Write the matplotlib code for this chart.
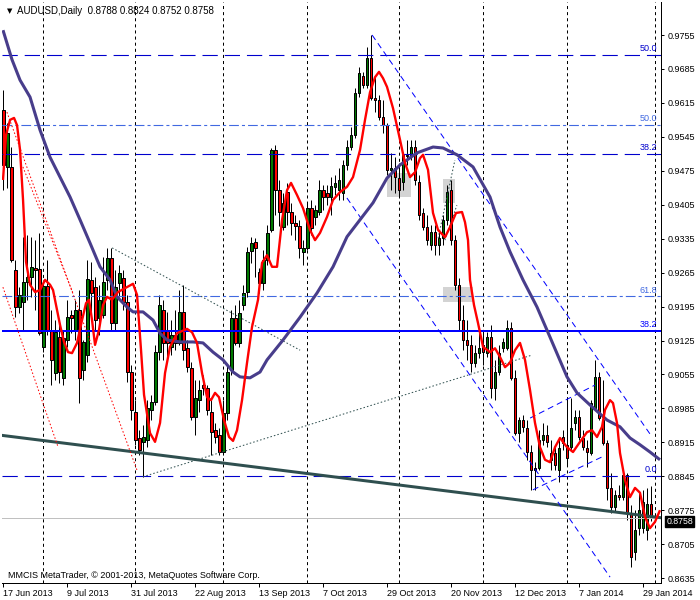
import matplotlib
matplotlib.use("Agg")
import numpy as np
import matplotlib.pyplot as plt
from matplotlib.patches import Rectangle
from matplotlib.transforms import blended_transform_factory, offset_copy

plt.rcParams['font.family'] = ['Liberation Sans', 'DejaVu Sans']
plt.rcParams['lines.scale_dashes'] = False

header = 'AUDUSD,Daily  0.8788 0.8824 0.8752 0.8758'
copyright_text = 'MMCIS MetaTrader, © 2001-2013, MetaQuotes Software Corp.'

# daily candles, 17 Jun 2013 .. 31 Jan 2014
opens = [0.9600, 0.9482, 0.9483, 0.9270, 0.9194, 0.9204, 0.9246, 0.9256, 0.9275, 0.9272,
         0.9112, 0.9237, 0.9147, 0.9058, 0.9132, 0.9048, 0.9126, 0.9178, 0.9147, 0.9188,
         0.9064, 0.9095, 0.9250, 0.9235, 0.9171, 0.9178, 0.9250, 0.9295, 0.9161, 0.9244,
         0.9254, 0.9204, 0.9060, 0.8977, 0.8924, 0.8916, 0.8920, 0.8982, 0.8998, 0.9101,
         0.9188, 0.9147, 0.9112, 0.9136, 0.9120, 0.9184, 0.9109, 0.9068, 0.8967, 0.9002,
         0.9033, 0.9027, 0.8977, 0.8940, 0.8930, 0.8895, 0.8975, 0.9064, 0.9171, 0.9120,
         0.9198, 0.9225, 0.9310, 0.9328, 0.9266, 0.9244, 0.9291, 0.9353, 0.9518, 0.9435,
         0.9359, 0.9431, 0.9390, 0.9367, 0.9361, 0.9308, 0.9316, 0.9398, 0.9380, 0.9390,
         0.9435, 0.9429, 0.9421, 0.9442, 0.9435, 0.9429, 0.9487, 0.9524, 0.9549, 0.9635,
         0.9670, 0.9652, 0.9708, 0.9625, 0.9621, 0.9586, 0.9569, 0.9477, 0.9481, 0.9460,
         0.9452, 0.9508, 0.9508, 0.9524, 0.9452, 0.9388, 0.9359, 0.9322, 0.9349, 0.9322,
         0.9336, 0.9373, 0.9435, 0.9332, 0.9239, 0.9167, 0.9126, 0.9116, 0.9079, 0.9099,
         0.9116, 0.9099, 0.9132, 0.9027, 0.9060, 0.9109, 0.9109, 0.9151, 0.9048, 0.8934,
         0.8961, 0.8945, 0.8895, 0.8862, 0.8862, 0.8920, 0.8930, 0.8879, 0.8893, 0.8858,
         0.8926, 0.8910, 0.8905, 0.8955, 0.8967, 0.8924, 0.8903, 0.8893, 0.8986, 0.9050,
         0.8961, 0.8914, 0.8821, 0.8782, 0.8807, 0.8803, 0.8848, 0.8769, 0.8689, 0.8738,
         0.8738, 0.8734, 0.8788]
highs = [0.9642, 0.9573, 0.9524, 0.9291, 0.9235, 0.9339, 0.9343, 0.9339, 0.9332, 0.9347,
         0.9250, 0.9291, 0.9188, 0.9167, 0.9163, 0.9147, 0.9209, 0.9188, 0.9209, 0.9229,
         0.9126, 0.9291, 0.9287, 0.9256, 0.9239, 0.9297, 0.9316, 0.9316, 0.9270, 0.9281,
         0.9270, 0.9219, 0.9075, 0.9002, 0.8940, 0.8951, 0.9002, 0.9013, 0.9116, 0.9219,
         0.9209, 0.9184, 0.9167, 0.9188, 0.9229, 0.9239, 0.9126, 0.9081, 0.9044, 0.9044,
         0.9054, 0.9033, 0.9002, 0.8955, 0.8945, 0.9002, 0.9075, 0.9188, 0.9198, 0.9209,
         0.9239, 0.9318, 0.9339, 0.9336, 0.9275, 0.9312, 0.9363, 0.9522, 0.9528, 0.9456,
         0.9429, 0.9450, 0.9409, 0.9384, 0.9373, 0.9332, 0.9409, 0.9415, 0.9405, 0.9456,
         0.9446, 0.9446, 0.9462, 0.9466, 0.9481, 0.9497, 0.9539, 0.9565, 0.9646, 0.9689,
         0.9679, 0.9730, 0.9755, 0.9668, 0.9631, 0.9621, 0.9573, 0.9512, 0.9504, 0.9491,
         0.9514, 0.9539, 0.9539, 0.9539, 0.9466, 0.9398, 0.9384, 0.9363, 0.9363, 0.9353,
         0.9384, 0.9446, 0.9456, 0.9343, 0.9254, 0.9198, 0.9167, 0.9136, 0.9116, 0.9147,
         0.9147, 0.9142, 0.9157, 0.9085, 0.9116, 0.9130, 0.9167, 0.9163, 0.9064, 0.8967,
         0.8971, 0.8961, 0.8910, 0.8874, 0.8940, 0.8955, 0.8951, 0.8920, 0.8910, 0.8924,
         0.8940, 0.9006, 0.9006, 0.8982, 0.8982, 0.8940, 0.8920, 0.9002, 0.9085, 0.9060,
         0.9044, 0.8920, 0.8852, 0.8817, 0.8827, 0.8852, 0.8852, 0.8786, 0.8775, 0.8811,
         0.8817, 0.8821, 0.8824]
lows = [0.9435, 0.9439, 0.9287, 0.9173, 0.9182, 0.9147, 0.9209, 0.9215, 0.9188, 0.9136,
        0.9101, 0.9136, 0.9033, 0.9044, 0.9037, 0.9033, 0.9112, 0.9140, 0.9126, 0.8996,
        0.9044, 0.9081, 0.9167, 0.9147, 0.9136, 0.9171, 0.9229, 0.9147, 0.9147, 0.9215,
        0.9188, 0.9039, 0.8961, 0.8910, 0.8889, 0.8844, 0.8905, 0.8961, 0.8992, 0.9085,
        0.9085, 0.9085, 0.9095, 0.9105, 0.9116, 0.9085, 0.9060, 0.8961, 0.8930, 0.8977,
        0.9013, 0.8971, 0.8889, 0.8914, 0.8889, 0.8889, 0.8961, 0.9054, 0.9116, 0.9112,
        0.9188, 0.9215, 0.9285, 0.9256, 0.9223, 0.9229, 0.9281, 0.9349, 0.9384, 0.9361,
        0.9353, 0.9363, 0.9343, 0.9332, 0.9295, 0.9281, 0.9312, 0.9343, 0.9363, 0.9384,
        0.9394, 0.9405, 0.9384, 0.9425, 0.9415, 0.9415, 0.9477, 0.9518, 0.9543, 0.9627,
        0.9646, 0.9646, 0.9621, 0.9596, 0.9580, 0.9553, 0.9466, 0.9435, 0.9429, 0.9421,
        0.9435, 0.9487, 0.9497, 0.9446, 0.9373, 0.9353, 0.9322, 0.9312, 0.9301, 0.9301,
        0.9322, 0.9363, 0.9322, 0.9229, 0.9147, 0.9105, 0.9085, 0.9060, 0.9070, 0.9089,
        0.9075, 0.9091, 0.9006, 0.9002, 0.9054, 0.9101, 0.9105, 0.9044, 0.8930, 0.8916,
        0.8936, 0.8879, 0.8817, 0.8817, 0.8858, 0.8910, 0.8905, 0.8858, 0.8858, 0.8833,
        0.8899, 0.8868, 0.8899, 0.8940, 0.8920, 0.8899, 0.8864, 0.8889, 0.8982, 0.8961,
        0.8910, 0.8796, 0.8769, 0.8773, 0.8796, 0.8796, 0.8755, 0.8658, 0.8672, 0.8724,
        0.8728, 0.8713, 0.8752]
closes = [0.9487, 0.9553, 0.9291, 0.9194, 0.9218, 0.9246, 0.9256, 0.9277, 0.9270, 0.9140,
          0.9237, 0.9147, 0.9085, 0.9142, 0.9060, 0.9130, 0.9174, 0.9172, 0.9188, 0.9048,
          0.9122, 0.9252, 0.9223, 0.9167, 0.9209, 0.9246, 0.9295, 0.9161, 0.9235, 0.9264,
          0.9204, 0.9060, 0.8982, 0.8920, 0.8899, 0.8926, 0.8986, 0.8998, 0.9101, 0.9198,
          0.9120, 0.9120, 0.9136, 0.9120, 0.9184, 0.9105, 0.9070, 0.8967, 0.9006, 0.9023,
          0.9027, 0.8982, 0.8936, 0.8926, 0.8895, 0.8975, 0.9060, 0.9171, 0.9120, 0.9182,
          0.9223, 0.9308, 0.9326, 0.9316, 0.9244, 0.9291, 0.9347, 0.9518, 0.9435, 0.9390,
          0.9409, 0.9390, 0.9367, 0.9361, 0.9316, 0.9316, 0.9398, 0.9357, 0.9394, 0.9435,
          0.9421, 0.9421, 0.9444, 0.9450, 0.9456, 0.9487, 0.9524, 0.9549, 0.9635, 0.9677,
          0.9652, 0.9708, 0.9625, 0.9621, 0.9586, 0.9569, 0.9477, 0.9481, 0.9462, 0.9435,
          0.9508, 0.9505, 0.9524, 0.9456, 0.9384, 0.9359, 0.9332, 0.9349, 0.9322, 0.9336,
          0.9373, 0.9431, 0.9332, 0.9239, 0.9167, 0.9126, 0.9116, 0.9079, 0.9099, 0.9109,
          0.9101, 0.9132, 0.9027, 0.9060, 0.9099, 0.9122, 0.9151, 0.9048, 0.8934, 0.8961,
          0.8947, 0.8895, 0.8858, 0.8858, 0.8920, 0.8930, 0.8916, 0.8893, 0.8868, 0.8903,
          0.8914, 0.8883, 0.8945, 0.8967, 0.8926, 0.8905, 0.8895, 0.8996, 0.9050, 0.8965,
          0.8914, 0.8821, 0.8782, 0.8807, 0.8803, 0.8848, 0.8769, 0.8679, 0.8734, 0.8775,
          0.8792, 0.8788, 0.8758]

date_labels = ['17 Jun 2013', '9 Jul 2013', '31 Jul 2013', '22 Aug 2013', '13 Sep 2013',
               '7 Oct 2013', '29 Oct 2013', '20 Nov 2013', '12 Dec 2013', '7 Jan 2014',
               '29 Jan 2014']
date_label_bars = [0, 16, 32, 48, 64, 80, 96, 112, 128, 144, 160]
grid_bars = [10, 33, 55, 76, 99, 120, 141, 163]
price_ticks = [0.9755, 0.9685, 0.9615, 0.9545, 0.9475, 0.9405, 0.9335, 0.9265, 0.9195,
               0.9125, 0.9055, 0.8985, 0.8915, 0.8845, 0.8775, 0.8705, 0.8635]

# fast (red) moving average
fast_ma_bar = [-0.08, 0.68, 1.68, 2.68, 3.43, 4.18, 4.93, 5.68, 6.68, 7.93, 9.18, 10.43,
               11.68, 12.43, 13.43, 14.18, 15.18, 16.18, 17.18, 18.43, 19.68, 20.68, 21.43,
               22.18, 22.93, 23.93, 24.93, 25.93, 27.18, 28.68, 30.43, 32.43, 33.43, 34.43,
               35.18, 36.68, 37.93, 39.18, 40.43, 41.68, 43.43, 45.93, 47.18, 48.43, 49.68,
               50.93, 51.93, 52.93, 53.93, 55.18, 56.43, 57.43, 58.43, 59.68, 60.93, 62.18,
               63.68, 64.68, 65.93, 67.18, 68.43, 69.68, 70.93, 71.93, 73.43, 74.93, 76.68,
               77.93, 79.18, 80.93, 82.43, 84.18, 85.93, 87.43, 89.18, 90.43, 91.68, 92.93,
               93.93, 94.93, 95.93, 97.43, 99.18, 100.43, 101.68, 102.93, 104.18, 104.93,
               106.18, 107.43, 108.68, 110.43, 111.68, 113.18, 114.68, 115.43, 116.18,
               116.68, 117.68, 118.68, 119.93, 121.68, 122.93, 124.18, 125.43, 126.68,
               127.93, 129.18, 130.43, 131.68, 132.93, 134.18, 135.43, 136.68, 137.93,
               139.18, 140.93, 142.43, 144.18, 145.93, 147.18, 148.43, 149.68, 150.43,
               151.68, 152.43, 153.43, 154.18, 155.43, 156.68, 157.93, 159.18, 160.43,
               161.68, 162.93, 164.18]
fast_ma = [0.9456, 0.9549, 0.9580, 0.9584, 0.9569, 0.9518, 0.9415, 0.9287, 0.9240, 0.9225,
           0.9229, 0.9250, 0.9240, 0.9229, 0.9188, 0.9157, 0.9122, 0.9101, 0.9099, 0.9120,
           0.9167, 0.9202, 0.9209, 0.9167, 0.9116, 0.9147, 0.9198, 0.9215, 0.9209, 0.9225,
           0.9233, 0.9242, 0.9219, 0.9105, 0.9013, 0.8934, 0.8916, 0.8955, 0.9058, 0.9112,
           0.9140, 0.9149, 0.9142, 0.9120, 0.9058, 0.9008, 0.9002, 0.9017, 0.9008, 0.8961,
           0.8926, 0.8918, 0.8940, 0.9002, 0.9079, 0.9153, 0.9209, 0.9285, 0.9301, 0.9277,
           0.9277, 0.9373, 0.9435, 0.9450, 0.9425, 0.9398, 0.9353, 0.9332, 0.9347, 0.9380,
           0.9415, 0.9431, 0.9442, 0.9462, 0.9518, 0.9580, 0.9637, 0.9668, 0.9679, 0.9666,
           0.9648, 0.9604, 0.9539, 0.9491, 0.9462, 0.9472, 0.9501, 0.9508, 0.9477, 0.9388,
           0.9353, 0.9338, 0.9359, 0.9388, 0.9390, 0.9369, 0.9332, 0.9250, 0.9198, 0.9161,
           0.9112, 0.9101, 0.9109, 0.9091, 0.9070, 0.9079, 0.9105, 0.9120, 0.9085, 0.9023,
           0.8955, 0.8905, 0.8879, 0.8874, 0.8905, 0.8924, 0.8905, 0.8895, 0.8916, 0.8936,
           0.8940, 0.8926, 0.8947, 0.8982, 0.9002, 0.8996, 0.8955, 0.8893, 0.8837, 0.8802,
           0.8821, 0.8811, 0.8761, 0.8738, 0.8751, 0.8775]

# slow (purple) moving average
slow_ma_bar = [-0.08, 2.18, 4.18, 6.68, 9.18, 11.68, 14.18, 16.68, 19.18, 21.68, 24.18,
               26.68, 28.43, 30.93, 32.43, 34.93, 37.43, 39.18, 40.93, 44.18, 47.43, 49.93,
               52.43, 54.93, 57.43, 59.18, 61.68, 64.18, 65.93, 69.93, 74.18, 78.43, 82.43,
               85.93, 89.18, 92.43, 95.93, 99.18, 103.43, 107.43, 109.93, 113.43, 117.43,
               121.68, 124.18, 126.68, 129.93, 133.43, 136.68, 140.93, 143.43, 146.68,
               150.93, 154.18, 156.68, 159.18, 161.68, 164.18]
slow_ma = [0.9765, 0.9704, 0.9662, 0.9627, 0.9559, 0.9503, 0.9462, 0.9421, 0.9374, 0.9326,
           0.9277, 0.9250, 0.9215, 0.9194, 0.9184, 0.9184, 0.9167, 0.9140, 0.9126, 0.9122,
           0.9122, 0.9120, 0.9101, 0.9085, 0.9060, 0.9050, 0.9048, 0.9060, 0.9085, 0.9126,
           0.9173, 0.9223, 0.9277, 0.9339, 0.9374, 0.9409, 0.9460, 0.9487, 0.9512, 0.9524,
           0.9522, 0.9508, 0.9483, 0.9421, 0.9359, 0.9308, 0.9250, 0.9194, 0.9132, 0.9050,
           0.9017, 0.8992, 0.8961, 0.8947, 0.8924, 0.8910, 0.8895, 0.8879]

# fibonacci levels
fib_dash_levels = [0.9714, 0.9510, 0.8846]
fib_dash_labels = ['50.0', '38.2', '0.0']
fib_dashdot_levels = [0.9570, 0.9216]
fib_dashdot_labels = ['50.0', '61.8']
fib_solid_level = 0.9145
fib_solid_label = '38.2'
bid_price = 0.8758

# trend lines: (bar, price) pairs
main_trend = [(0, 0.8929), (162, 0.8762)]
dotted_trends = [[(27.2, 0.9316), (74.2, 0.9105)],
                 [(34.9, 0.8844), (132.2, 0.9095)],
                 [(108.7, 0.9336), (112.9, 0.9497)],
                 [(110.4, 0.9332), (113.4, 0.9404)]]
red_fan = [[(0.9, 0.9596), (33.4, 0.8858)],
           [(-0.1, 0.9235), (13.7, 0.8905)],
           [(4.9, 0.9483), (17.4, 0.9223)]]
channel_lines = [[(92.2, 0.9755), (161.7, 0.8932)],
                 [(85.9, 0.9419), (151.7, 0.8637)],
                 [(131.7, 0.8965), (147.9, 0.9033)],
                 [(132.4, 0.8817), (149.7, 0.8885)]]
# shaded boxes: (bar_from, bar_to, price_low, price_high)
boxes = [(95.9, 101.9, 0.9421, 0.9470),
         (109.9, 112.9, 0.9409, 0.9458),
         (109.9, 117.4, 0.9204, 0.9235)]

PX = 0.72  # one pixel in points

fig = plt.figure(figsize=(7, 6), dpi=100)
ax = fig.add_axes([2 / 700, 17 / 600, 659 / 700, 581 / 600])
ax.set_xlim(-0.33, 164.43)
ax.set_ylim(0.86249, 0.98231)

for b in grid_bars:
    ax.axvline(b, color='black', lw=PX, linestyle=(0, (2.2, 2.2)), zorder=0.5)

for b0, b1, p0, p1 in boxes:
    ax.add_patch(Rectangle((b0, p0), b1 - b0, p1 - p0, facecolor='#d3d3d3',
                           edgecolor='none', zorder=1))

x = np.arange(len(opens))
o = np.array(opens)
c = np.array(closes)
ax.vlines(x, lows, highs, color='black', lw=PX, zorder=2)
body_colors = np.where(c >= o, '#007800', '#ff0000')
ax.bar(x, np.abs(c - o), bottom=np.minimum(o, c), width=0.6, color=body_colors,
       edgecolor='black', linewidth=PX, zorder=3)

for lvl, lab in zip(fib_dash_levels, fib_dash_labels):
    ax.axhline(lvl, color='#0000cd', lw=1.1 * PX, linestyle=(0, (11, 5)), zorder=4)
    ax.text(163.4, lvl + 0.0003, lab, color='#0000cd', fontsize=6.5, ha='right',
            va='bottom', zorder=6)
for lvl, lab in zip(fib_dashdot_levels, fib_dashdot_labels):
    ax.axhline(lvl, color='#4169e1', lw=1.1 * PX, linestyle=(0, (7, 2.2, 2.2, 2.2)),
               zorder=4)
    ax.text(163.4, lvl + 0.0003, lab, color='#4169e1', fontsize=6.5, ha='right',
            va='bottom', zorder=6)
ax.axhline(fib_solid_level, color='#0000ff', lw=2 * PX, zorder=4)
ax.text(163.4, fib_solid_level + 0.0004, fib_solid_label, color='#0000ff', fontsize=6.5,
        ha='right', va='bottom', zorder=6)

ax.axhline(bid_price, color='#c0c0c0', lw=PX, zorder=3.5)
ax.axline(main_trend[0], main_trend[1], color='#2f4f4f', lw=3 * PX, zorder=4)

for seg in dotted_trends:
    (x0, y0), (x1, y1) = seg
    ax.plot([x0, x1], [y0, y1], color='#2f4f4f', lw=PX, linestyle=(0, (1.1, 1.5)), zorder=4)
for seg in red_fan:
    (x0, y0), (x1, y1) = seg
    ax.plot([x0, x1], [y0, y1], color='#ff0000', lw=PX, linestyle=(0, (1.1, 1.5)), zorder=4)
for seg in channel_lines:
    (x0, y0), (x1, y1) = seg
    ax.plot([x0, x1], [y0, y1], color='#0000ff', lw=PX, linestyle=(0, (4.3, 2.9)), zorder=4)

ax.plot(slow_ma_bar, slow_ma, color='#483d8b', lw=2.2, zorder=5, solid_capstyle='butt')
ax.plot(fast_ma_bar, fast_ma, color='#ff0000', lw=1.7, zorder=5.5, solid_capstyle='butt')

for side in ['left', 'top']:
    ax.spines[side].set_visible(False)
for side in ['right', 'bottom']:
    ax.spines[side].set_linewidth(PX)
    ax.spines[side].set_color('black')

ax.yaxis.tick_right()
ax.set_yticks(price_ticks)
ax.set_yticklabels([f'{p:.4f}' for p in price_ticks])
ax.tick_params(axis='y', length=2.5, width=PX, pad=2, labelsize=6.5, colors='black')
ax.set_xticks(date_label_bars)
ax.set_xticklabels(date_labels)
ax.tick_params(axis='x', length=3, width=PX, pad=1.5, labelsize=6.5, colors='black')
for lbl in ax.get_xticklabels():
    lbl.set_horizontalalignment('left')

# current price tag on the price scale, sitting just under the 0.8775 label
bid_trans = offset_copy(blended_transform_factory(ax.transAxes, ax.transData), fig=fig,
                        x=3.8, y=-2.2, units='points')
ax.text(1.0, bid_price, f'{bid_price:.4f}', transform=bid_trans, color='white',
        fontsize=6.3, ha='left', va='center', zorder=10, clip_on=False,
        bbox=dict(boxstyle='square,pad=0.12', facecolor='black', edgecolor='black'))

ax.text(6 / 659, 8 / 581, copyright_text, transform=ax.transAxes, fontsize=6.5,
        ha='left', va='center', zorder=10)
fig.text(7 / 700, 1 - 11 / 600, '▼', family='DejaVu Sans', fontsize=5, ha='left',
         va='center')
fig.text(17 / 700, 1 - 11 / 600, header, fontsize=7, ha='left', va='center')

fig.savefig('out.png', dpi=100)
